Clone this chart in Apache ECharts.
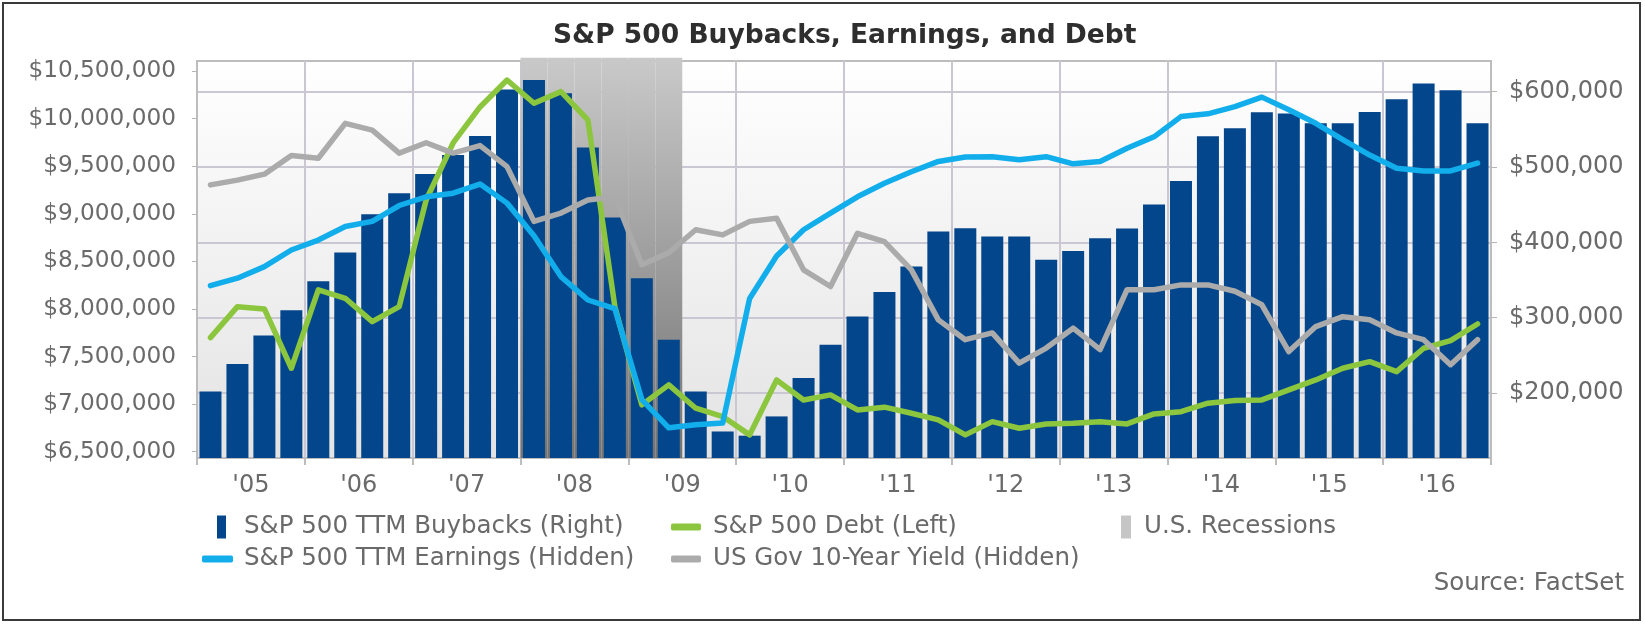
<!DOCTYPE html>
<html>
<head>
<meta charset="utf-8">
<title>S&P 500 Buybacks, Earnings, and Debt</title>
<script src="https://cdn.jsdelivr.net/npm/echarts@6/dist/echarts.min.js"></script>
<style>
  html, body { margin: 0; padding: 0; background: #fff; }
  #chart { width: 1645px; height: 633px; }
</style>
</head>
<body>
<div id="chart"></div>
<script>
// 季度类目 2005 Q1 - 2016 Q4
var quarters = [
  '05Q1','05Q2','05Q3','05Q4','06Q1','06Q2','06Q3','06Q4',
  '07Q1','07Q2','07Q3','07Q4','08Q1','08Q2','08Q3','08Q4',
  '09Q1','09Q2','09Q3','09Q4','10Q1','10Q2','10Q3','10Q4',
  '11Q1','11Q2','11Q3','11Q4','12Q1','12Q2','12Q3','12Q4',
  '13Q1','13Q2','13Q3','13Q4','14Q1','14Q2','14Q3','14Q4',
  '15Q1','15Q2','15Q3','15Q4','16Q1','16Q2','16Q3','16Q4'
];
var years = ["'05","'06","'07","'08","'09","'10","'11","'12","'13","'14","'15","'16"];

// 右轴：TTM 回购
var buybacks = [
  202000, 238500, 276400, 310000, 348500, 386500, 437400, 465300,
  490800, 516000, 541200, 603000, 615500, 598000, 526000, 433000,
  352500, 270700, 202000, 149000, 143400, 169000, 220000, 264000,
  301600, 334000, 368000, 414300, 418800, 407700, 407700, 376800,
  388500, 405600, 418400, 450200, 481600, 540800, 551400, 572600,
  571000, 558000, 558000, 573000, 590000, 611000, 602000, 558000
];
// 左轴：债务
var debt = [
  7699000, 8024000, 8000000, 7377000, 8200000, 8112000, 7867000, 8024000,
  9145000, 9744000, 10122000, 10405000, 10161000, 10283000, 9985000, 8024000,
  6992000, 7202000, 6957000, 6869000, 6677000, 7254000, 7044000, 7097000,
  6939000, 6968000, 6904000, 6834000, 6677000, 6816000, 6747000, 6792000,
  6800000, 6816000, 6792000, 6897000, 6921000, 7010000, 7037000, 7044000,
  7149000, 7254000, 7377000, 7446000, 7341000, 7587000, 7667000, 7842000
];
// 隐藏轴（0-100 相对刻度）
var earnings = [
  43.4, 45.3, 48.2, 52.4, 54.9, 58.3, 59.6, 63.6,
  65.8, 66.7, 69.0, 64.2, 56.0, 45.7, 39.8, 37.6,
  14.7, 7.6, 8.4, 8.8, 40.2, 50.9, 57.5, 61.7,
  65.8, 69.2, 72.1, 74.7, 75.8, 75.9, 75.1, 75.9,
  74.1, 74.7, 78.0, 80.9, 86.0, 86.7, 88.5, 90.9,
  87.7, 84.3, 80.2, 76.3, 73.0, 72.3, 72.3, 74.3
];
var yield10y = [
  68.8, 70.0, 71.5, 76.2, 75.5, 84.3, 82.6, 76.8,
  79.4, 76.8, 78.7, 73.4, 59.6, 61.7, 65.0, 65.8,
  48.7, 51.7, 57.5, 56.2, 59.6, 60.4, 47.4, 43.2,
  56.6, 54.5, 47.4, 34.8, 29.8, 31.5, 23.9, 27.7,
  32.7, 27.3, 42.4, 42.4, 43.6, 43.6, 42.0, 38.6,
  26.8, 33.1, 35.6, 34.8, 31.5, 29.8, 23.5, 29.8
];
// 衰退期（2008 Q1 - 2009 Q2）
var recession = [
  0,0,0,0, 0,0,0,0, 0,0,0,0, 1,1,1,1, 1,1,0,0, 0,0,0,0,
  0,0,0,0, 0,0,0,0, 0,0,0,0, 0,0,0,0, 0,0,0,0, 0,0,0,0
];
var leftTicks = [6500000, 7000000, 7500000, 8000000, 8500000, 9000000, 9500000, 10000000, 10500000];
var rightTicks = [200000, 300000, 400000, 500000, 600000];

var FONT = 'DejaVu Sans';
var TXT = '#6a6a6a';
var GRIDLINE = '#cac7d3';

function money(v) {
  return '$' + Math.round(v).toLocaleString('en-US');
}

function legendItem(name, left, top, icon, w, h, gap, color) {
  var d = { name: name };
  if (color) d.itemStyle = { color: color };
  return {
    data: [d],
    left: left,
    top: top,
    padding: 0,
    icon: icon,
    itemWidth: w,
    itemHeight: h,
    selectedMode: false,
    textStyle: {
      fontFamily: FONT, fontSize: 24.5, color: TXT,
      lineHeight: 30, padding: [0, 0, 0, gap]
    }
  };
}

var chart = echarts.init(document.getElementById('chart'));
var option = {
  animation: false,
  backgroundColor: '#fff',
  title: {
    text: 'S&P 500 Buybacks, Earnings, and Debt',
    left: 553,
    top: 23,
    padding: 0,
    textStyle: { fontFamily: FONT, fontSize: 26.5, fontWeight: 'bold', color: '#2e2e2e' }
  },
  legend: [
    legendItem('S&P 500 TTM Buybacks (Right)', 217, 512, 'rect', 9, 23, 13),
    legendItem('S&P 500 Debt (Left)', 671, 512, 'roundRect', 30, 7, 7),
    legendItem('U.S. Recessions', 1121, 512, 'rect', 10, 23, 8, '#c6c6c6'),
    legendItem('S&P 500 TTM Earnings (Hidden)', 202, 544, 'roundRect', 31, 7, 6),
    legendItem('US Gov 10-Year Yield (Hidden)', 671, 544, 'roundRect', 30, 7, 7)
  ],
  grid: {
    left: 197,
    right: 154,
    top: 61,
    bottom: 175,
    show: true,
    borderColor: '#bdbdbd',
    borderWidth: 2,
    backgroundColor: {
      type: 'linear', x: 0, y: 0, x2: 0, y2: 1,
      colorStops: [{ offset: 0, color: '#ffffff' }, { offset: 1, color: '#e3e3e3' }]
    }
  },
  xAxis: [
    {
      type: 'category',
      data: quarters,
      position: 'top',
      show: false
    },
    {
      type: 'category',
      data: years,
      position: 'bottom',
      boundaryGap: true,
      axisLine: { lineStyle: { color: '#bdbdbd', width: 2 } },
      axisTick: { show: true, length: 7, lineStyle: { color: '#bdbdbd', width: 2 } },
      axisLabel: { fontFamily: FONT, fontSize: 24, color: TXT, margin: 16, interval: 0 },
      splitLine: { show: true, interval: 0, lineStyle: { color: GRIDLINE, width: 2 } }
    },
    {
      type: 'category',
      data: quarters,
      position: 'top',
      show: false
    }
  ],
  yAxis: [
    {
      type: 'value',
      position: 'left',
      min: 6434000,
      max: 10605000,
      axisLine: { show: true, lineStyle: { color: '#bdbdbd', width: 2 } },
      axisTick: { show: true, length: 5, customValues: leftTicks, lineStyle: { color: '#b5b5b5' } },
      axisLabel: {
        customValues: leftTicks,
        fontFamily: FONT, fontSize: 23.2, color: TXT, margin: 21,
        formatter: money
      },
      splitLine: { show: false }
    },
    {
      type: 'value',
      position: 'right',
      min: 113800,
      max: 640700,
      axisLine: { show: true, lineStyle: { color: '#bdbdbd', width: 2 } },
      axisTick: { show: true, length: 6, customValues: rightTicks, lineStyle: { color: '#b5b5b5' } },
      axisLabel: {
        customValues: rightTicks,
        fontFamily: FONT, fontSize: 24, color: TXT, margin: 18,
        formatter: money
      },
      splitLine: { show: true, lineStyle: { color: GRIDLINE, width: 2 } }
    },
    { type: 'value', position: 'left', min: 0, max: 100, show: false, splitLine: { show: false } },
    { type: 'value', position: 'right', min: 0, max: 0.992, show: false, splitLine: { show: false } }
  ],
  series: [
    {
      name: 'U.S. Recessions',
      type: 'bar',
      xAxisIndex: 2,
      yAxisIndex: 3,
      barCategoryGap: '0%',
      clip: false,
      z: 1,
      itemStyle: {
        color: {
          type: 'linear', x: 0, y: 0, x2: 0, y2: 1,
          colorStops: [{ offset: 0, color: '#c9c9c9' }, { offset: 1, color: '#737373' }]
        }
      },
      data: recession
    },
    {
      name: 'S&P 500 TTM Buybacks (Right)',
      type: 'bar',
      xAxisIndex: 0,
      yAxisIndex: 1,
      barWidth: 22,
      z: 2,
      color: '#03468b',
      data: buybacks
    },
    {
      name: 'S&P 500 Debt (Left)',
      type: 'line',
      xAxisIndex: 0,
      yAxisIndex: 0,
      symbol: 'none',
      z: 3,
      color: '#8cc63e',
      lineStyle: { width: 5.5, cap: 'round', join: 'round' },
      data: debt
    },
    {
      name: 'S&P 500 TTM Earnings (Hidden)',
      type: 'line',
      xAxisIndex: 0,
      yAxisIndex: 2,
      symbol: 'none',
      z: 4,
      color: '#12aeec',
      lineStyle: { width: 5.5, cap: 'round', join: 'round' },
      data: earnings
    },
    {
      name: 'US Gov 10-Year Yield (Hidden)',
      type: 'line',
      xAxisIndex: 0,
      yAxisIndex: 2,
      symbol: 'none',
      z: 5,
      color: '#ababab',
      lineStyle: { width: 5.5, cap: 'round', join: 'round' },
      data: yield10y
    }
  ],
  graphic: [
    {
      type: 'rect',
      shape: { x: 3, y: 3, width: 1637, height: 617 },
      style: { fill: 'none', stroke: '#3a3a3a', lineWidth: 2 },
      silent: true,
      z: 100
    },
    {
      type: 'text',
      right: 21,
      top: 571,
      style: { text: 'Source: FactSet', fontFamily: FONT, fontSize: 24.5, fill: TXT }
    }
  ]
};
chart.setOption(option);
</script>
</body>
</html>
